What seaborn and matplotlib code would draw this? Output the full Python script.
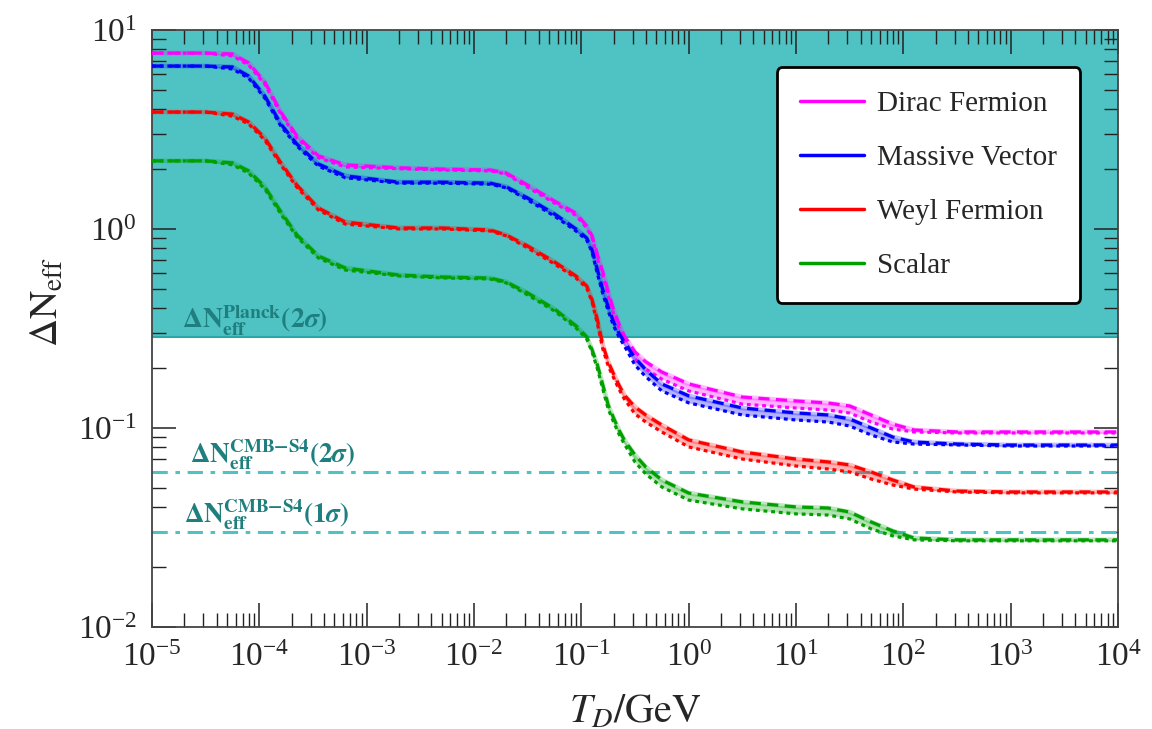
import numpy as np
import pandas as pd
import seaborn as sns
import matplotlib.pyplot as plt
from matplotlib.lines import Line2D
from matplotlib.ticker import NullFormatter

# log10(T_D / GeV) sampling points shared by all curves
logT = [-5, -4.5, -4.25, -4.1, -3.95, -3.8, -3.65, -3.45, -3.2, -2.7,
        -2.3, -1.85, -1.7, -1.5, -1.25, -1.05, -0.95, -0.9, -0.85, -0.8,
        -0.75, -0.7, -0.65, -0.6, -0.5, -0.4, -0.25, 0, 0.5, 1,
        1.3, 1.5, 1.7, 1.9, 2.1, 2.5, 3, 4]

# upper (dashed) and lower (dotted) edges of each band, Delta N_eff
dirac_hi = [7.66, 7.66, 7.58, 6.83, 5.48, 3.87, 2.93, 2.33, 2.10, 2.03,
            2.00, 1.98, 1.91, 1.66, 1.38, 1.20, 1.035, 0.922, 0.740, 0.608,
            0.483, 0.392, 0.333, 0.290, 0.241, 0.215, 0.191, 0.1665, 0.143, 0.1367,
            0.1335, 0.129, 0.1162, 0.1047, 0.0977, 0.0955, 0.0955, 0.0955]
dirac_lo = [7.66, 7.66, 7.41, 6.67, 5.35, 3.78, 2.86, 2.28, 2.05, 2.01,
            1.98, 1.96, 1.89, 1.62, 1.35, 1.17, 1.011, 0.901, 0.707, 0.581,
            0.461, 0.374, 0.318, 0.277, 0.222, 0.198, 0.176, 0.1535, 0.1318, 0.126,
            0.1231, 0.1189, 0.1071, 0.0988, 0.0955, 0.0944, 0.0944, 0.0944]

vector_hi = [6.59, 6.59, 6.52, 5.87, 4.66, 3.37, 2.67, 2.12, 1.85, 1.72,
             1.72, 1.70, 1.63, 1.43, 1.19, 1.00, 0.901, 0.784, 0.622, 0.494,
             0.406, 0.341, 0.300, 0.271, 0.225, 0.196, 0.1665, 0.145, 0.126, 0.119,
             0.1162, 0.111, 0.100, 0.0901, 0.0850, 0.0831, 0.0821, 0.0821]
vector_lo = [6.59, 6.59, 6.37, 5.73, 4.55, 3.29, 2.61, 2.07, 1.81, 1.70,
             1.70, 1.68, 1.61, 1.40, 1.16, 0.977, 0.880, 0.766, 0.594, 0.472,
             0.388, 0.326, 0.287, 0.259, 0.207, 0.181, 0.1535, 0.1337, 0.1162, 0.1097,
             0.1071, 0.1023, 0.0922, 0.0851, 0.0830, 0.0822, 0.0812, 0.0812]

weyl_hi = [3.87, 3.87, 3.78, 3.45, 2.87, 2.15, 1.66, 1.275, 1.084, 1.012,
           1.012, 0.989, 0.933, 0.821, 0.683, 0.580, 0.517, 0.440, 0.349, 0.261,
           0.215, 0.187, 0.1645, 0.1465, 0.1275, 0.1162, 0.1035, 0.0871, 0.0757, 0.0698,
           0.0675, 0.0652, 0.0601, 0.0548, 0.0505, 0.0482, 0.0477, 0.0477]
weyl_lo = [3.87, 3.87, 3.69, 3.37, 2.80, 2.10, 1.62, 1.246, 1.059, 1.001,
           1.001, 0.978, 0.923, 0.802, 0.667, 0.567, 0.505, 0.430, 0.333, 0.249,
           0.205, 0.179, 0.157, 0.140, 0.1176, 0.1071, 0.0954, 0.0803, 0.0698, 0.0644,
           0.0622, 0.0601, 0.0554, 0.0517, 0.0493, 0.0477, 0.0472, 0.0472]

scalar_hi = [2.20, 2.20, 2.15, 1.96, 1.63, 1.22, 0.933, 0.732, 0.637, 0.587,
             0.574, 0.567, 0.542, 0.477, 0.396, 0.326, 0.287, 0.247, 0.207, 0.1645,
             0.1305, 0.1123, 0.0977, 0.0871, 0.0731, 0.0637, 0.0548, 0.0471, 0.0425, 0.0401,
             0.0396, 0.0378, 0.0337, 0.0304, 0.0280, 0.0274, 0.0274, 0.0274]
scalar_lo = [2.20, 2.20, 2.10, 1.91, 1.59, 1.19, 0.912, 0.715, 0.622, 0.581,
             0.568, 0.561, 0.536, 0.466, 0.387, 0.318, 0.280, 0.241, 0.198, 0.157,
             0.1246, 0.1072, 0.0933, 0.0832, 0.0674, 0.0587, 0.0505, 0.0434, 0.0392, 0.0370,
             0.0365, 0.0349, 0.0311, 0.0287, 0.0274, 0.0271, 0.0271, 0.0271]

labels = ['Dirac Fermion', 'Massive Vector', 'Weyl Fermion', 'Scalar']
colors = ['#ff00ff', '#0000ff', '#ff0000', '#00a000']

planck_2sigma = 0.285
cmbs4_2sigma = 0.06
cmbs4_1sigma = 0.03

T = 10.0 ** np.array(logT)
bands = [(dirac_hi, dirac_lo), (vector_hi, vector_lo),
         (weyl_hi, weyl_lo), (scalar_hi, scalar_lo)]

sns.set_theme(style='ticks')
plt.rcParams['font.family'] = ['Liberation Serif', 'DejaVu Serif']
plt.rcParams['mathtext.fontset'] = 'stix'
plt.rcParams['xtick.minor.visible'] = True
plt.rcParams['ytick.minor.visible'] = True

fig = plt.figure(figsize=(11.52, 7.29), dpi=100)
ax = fig.add_axes([0.132, 0.140, 0.8385, 0.8188])

teal = '#4fc3c3'
ax.axhspan(planck_2sigma, 10, color=teal, lw=0, zorder=0)
ax.axhline(planck_2sigma, color='#2aa8a8', lw=1.5, zorder=1)
for v in (cmbs4_2sigma, cmbs4_1sigma):
    ax.axhline(v, color=teal, lw=2.2, ls=(0, (5, 2.5, 1.5, 2.5)), zorder=1)

for (hi, lo), c in zip(bands, colors):
    ax.fill_between(T, lo, hi, color=c, alpha=0.3, lw=0, zorder=2)
    sns.lineplot(x=T, y=hi, color=c, lw=3.4, alpha=0.25, ax=ax, zorder=3)
    sns.lineplot(x=T, y=lo, color=c, lw=2.3, ls=(0, (1.2, 1.2)), ax=ax, zorder=4)
    sns.lineplot(x=T, y=hi, color=c, lw=2.3, ls=(0, (3.5, 2.0)), ax=ax, zorder=5)

ax.set_xscale('log')
ax.set_yscale('log')
ax.set_xlim(1e-5, 1e4)
ax.set_ylim(1e-2, 1e1)
subs = np.arange(2, 10)
ax.set_xticks(10.0 ** np.arange(-5, 5))
ax.set_xticks([k * 10.0 ** d for d in range(-5, 4) for k in subs], minor=True)
ax.set_yticks([1e-2, 1e-1, 1e0, 1e1])
ax.set_yticks([k * 10.0 ** d for d in range(-2, 1) for k in subs], minor=True)
ax.xaxis.set_minor_formatter(NullFormatter())
ax.yaxis.set_minor_formatter(NullFormatter())
ax.set_xlim(1e-5, 1e4)
ax.set_ylim(1e-2, 1e1)

ax.tick_params(which='both', direction='in', top=True, right=True,
               bottom=True, left=True, labelsize=24, color='#222222')
ax.tick_params(which='major', length=17, width=1.1, pad=11)
ax.tick_params(which='minor', length=10, width=1.0)
for s in ax.spines.values():
    s.set_color('#444444')
    s.set_linewidth(1.3)

ax.set_xlabel(r'$T_D/\mathrm{GeV}$', fontsize=29)
ax.xaxis.set_label_coords(0.5, -0.112)
ax.set_ylabel(r'$\Delta\mathrm{N}_{\mathrm{eff}}$', fontsize=28)
ax.yaxis.set_label_coords(-0.088, 0.545)

txt_col = '#1f7f7f'
ax.text(1.9e-5, 0.345,
        r'$\mathbf{\Delta N}_{\mathbf{eff}}^{\mathbf{Planck}}\mathbf{(2}\boldsymbol{\sigma}\mathbf{)}$',
        fontsize=20, color=txt_col, va='center', ha='left', zorder=6)
ax.text(2.25e-5, 0.0735,
        r'$\mathbf{\Delta N}_{\mathbf{eff}}^{\mathbf{CMB{-}S4}}\mathbf{(2}\boldsymbol{\sigma}\mathbf{)}$',
        fontsize=19.5, color=txt_col, va='center', ha='left', zorder=6)
ax.text(2.0e-5, 0.0368,
        r'$\mathbf{\Delta N}_{\mathbf{eff}}^{\mathbf{CMB{-}S4}}\mathbf{(1}\boldsymbol{\sigma}\mathbf{)}$',
        fontsize=19.5, color=txt_col, va='center', ha='left', zorder=6)

handles = [Line2D([0], [0], color=c, lw=2.5) for c in colors]
leg = ax.legend(handles, labels, loc='upper right', bbox_to_anchor=(0.961, 0.938),
                borderaxespad=0, fontsize=21, frameon=True, fancybox=True,
                handlelength=2.2, handletextpad=0.45, labelspacing=0.95,
                borderpad=0.8, framealpha=1)
leg.get_frame().set_edgecolor('black')
leg.get_frame().set_linewidth(2)
leg.set_zorder(7)

fig.savefig('out.png', dpi=100)
